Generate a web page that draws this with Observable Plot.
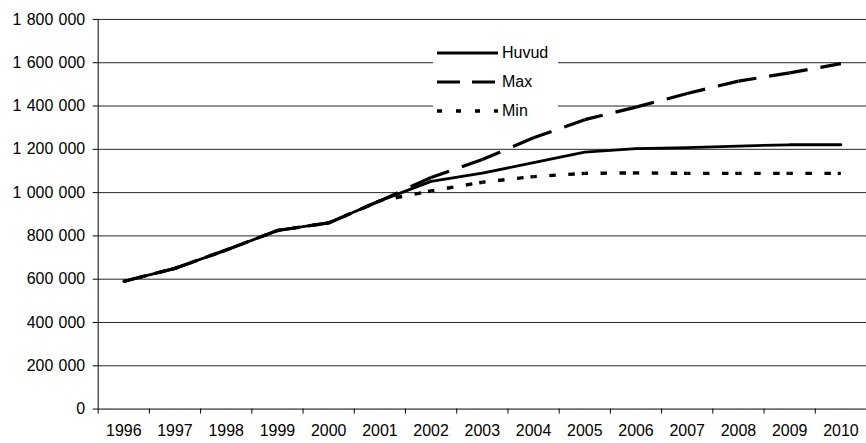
<!DOCTYPE html>
<html>
<head>
<meta charset="utf-8">
<script src="https://cdn.jsdelivr.net/npm/d3@7"></script>
<script src="https://cdn.jsdelivr.net/npm/@observablehq/plot@0.6"></script>
<style>
html,body{margin:0;padding:0;background:#fff;overflow:hidden}
#wrap{position:relative;width:866px;height:443px;overflow:hidden}
#legend{position:absolute;left:433px;top:38px;width:125px;height:88px;background:#fff;font:16px "Liberation Sans",Arial,sans-serif;color:#000}
.row{position:absolute;left:0;height:18px;display:flex;align-items:center}
.row svg{margin-left:4px;display:block}
.row span{margin-left:3px;line-height:18px}
</style>
</head>
<body>
<div id="wrap"><div id="legend"></div></div>
<script>
// ---- data ----
const years = [1996,1997,1998,1999,2000,2001,2002,2003,2004,2005,2006,2007,2008,2009,2010];
const huvud = [590000,650000,735000,825000,860000,962000,1052000,1090000,1138000,1187000,1203000,1208000,1215000,1221000,1221000];
const maxV  = [590000,650000,735000,825000,860000,962000,1070000,1153000,1253000,1337000,1395000,1458000,1515000,1553000,1596000];
const minV  = [590000,650000,735000,825000,860000,962000,1008000,1048000,1074000,1089000,1091000,1089000,1089000,1089000,1089000];
const seriesNames = ["Huvud","Max","Min"];
const yTicks = [0,200000,400000,600000,800000,1000000,1200000,1400000,1600000,1800000];

const fmt = d3.formatLocale({decimal:",", thousands:"\u2004", grouping:[3], currency:["",""]}).format(",d");
const data = years.map((y,i)=>({year:y, huvud:huvud[i]}));
const segs = arr => years.slice(1).map((y,i)=>({x1:years[i], y1:arr[i], x2:y, y2:arr[i+1]}));
const bounds = years.map(y=>y-0.5);

const font = '"Liberation Sans", Arial, sans-serif';
const plot = Plot.plot({
  width: 869, height: 443,
  marginLeft: 98, marginRight: 0, marginTop: 19, marginBottom: 33,
  style: {fontFamily: font, fontSize: "16px", color: "#000", background: "#fff", overflow: "visible"},
  x: {type: "linear", domain: [1995.5, 2010.5], axis: null, label: null},
  y: {domain: [0, 1800000], axis: null, label: null},
  marks: [
    Plot.ruleY(yTicks.filter(d => d > 0), {stroke: "#262626", strokeWidth: 1}),
    Plot.axisY({ticks: yTicks, tickSize: 5, tickPadding: 8, tickFormat: fmt, label: null, stroke: "#000"}),
    Plot.axisX({ticks: bounds, tickSize: 5, tickFormat: () => "", label: null, stroke: "#000"}),
    Plot.axisX({ticks: years, tickSize: 0, tickPadding: 16, tickFormat: d => String(d), label: null}),
    Plot.ruleX([1995.5], {y1: 0, y2: 1800000, stroke: "#000", strokeWidth: 1}),
    Plot.ruleY([0], {stroke: "#000", strokeWidth: 1}),
    Plot.line(data, {x: "year", y: "huvud", stroke: "#000", strokeWidth: 2.8}),
    Plot.link(segs(maxV), {x1: "x1", y1: "y1", x2: "x2", y2: "y2", stroke: "#000", strokeWidth: 3.2,
      strokeDasharray: "0.35 0.25 0.4 0"}),
    Plot.link(segs(minV), {x1: "x1", y1: "y1", x2: "x2", y2: "y2", stroke: "#000", strokeWidth: 3.4,
      strokeDasharray: "0.063 0.244 0.127 0.244 0.127 0.134 0.063 0"})
  ]
});
d3.select(plot).selectAll('g[aria-label="link"] path').attr("pathLength", 1);
document.getElementById("wrap").insertBefore(plot, document.getElementById("legend"));

// legend
const legendStyles = {
  Huvud: {dash: null, w: 3},
  Max: {dash: "23 12", w: 3.2},
  Min: {dash: "5 14", w: 3.4}
};
const centers = [15, 44, 73];
const leg = d3.select("#legend");
seriesNames.forEach((name, i) => {
  const row = leg.append("div").attr("class", "row").style("top", (centers[i] - 9) + "px");
  const svg = row.append("svg").attr("width", 62).attr("height", 18);
  svg.append("line").attr("x1", 0).attr("x2", 61).attr("y1", 9).attr("y2", 9)
    .attr("stroke", "#000").attr("stroke-width", legendStyles[name].w)
    .attr("stroke-dasharray", legendStyles[name].dash);
  row.append("span").text(name);
});
</script>
</body>
</html>
